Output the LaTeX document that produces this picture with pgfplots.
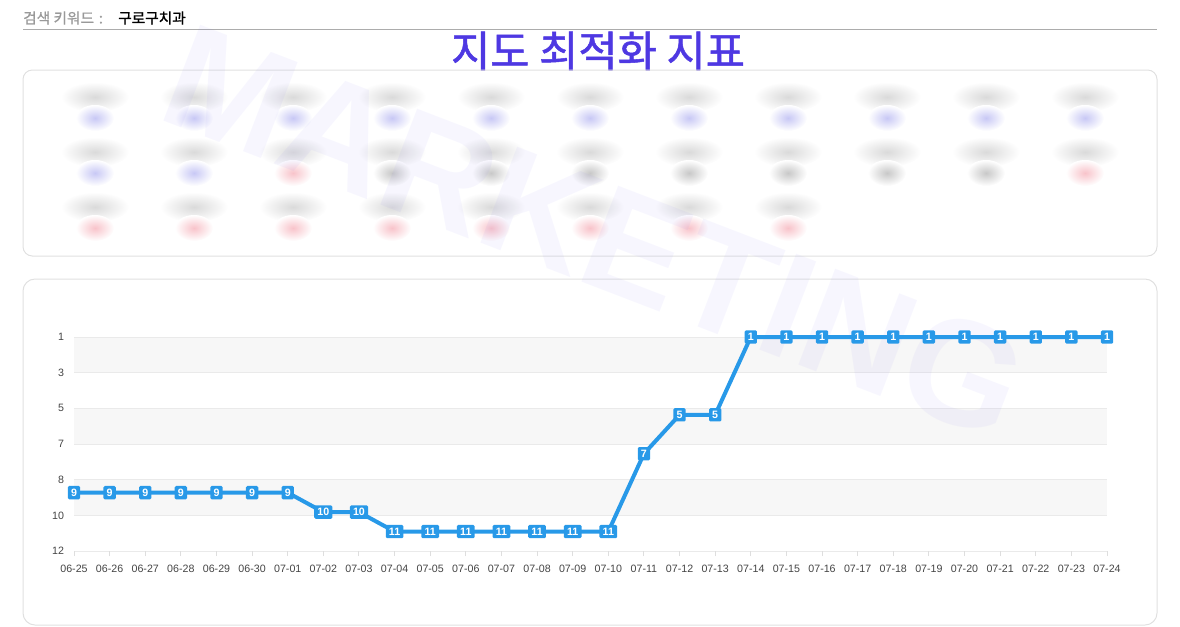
\documentclass[border=0pt]{standalone}
\usepackage{fontspec}
\setmainfont{Liberation Sans}
\newfontfamily\kr{Noto Sans CJK KR}
\newfontfamily\krb[FakeBold=1.2]{Noto Sans CJK KR}
\usepackage{pgfplots}
\pgfplotsset{compat=1.18}

\definecolor{lineblue}{RGB}{40,153,232}
\definecolor{titleblue}{RGB}{78,56,226}
\definecolor{bandgray}{RGB}{247,247,247}
\definecolor{gridgray}{RGB}{234,234,234}
\definecolor{tickgray}{RGB}{222,222,222}
\definecolor{labelgray}{RGB}{68,68,68}
\definecolor{boxgray}{RGB}{224,224,224}
\definecolor{bgray}{RGB}{218,218,218}
\definecolor{bblue}{RGB}{200,200,245}
\definecolor{bred}{RGB}{248,195,202}
\definecolor{bdark}{RGB}{200,200,200}
\definecolor{lavender}{RGB}{120,110,240}

\pgfplotstableread{
x y
0 9
1 9
2 9
3 9
4 9
5 9
6 9
7 10
8 10
9 11
10 11
11 11
12 11
13 11
14 11
15 11
16 7
17 5
18 5
19 1
20 1
21 1
22 1
23 1
24 1
25 1
26 1
27 1
28 1
29 1
}\ranks

% blurred card: grey header blob over a coloured blob, centre x y (px)
\newcommand{\blobitem}[3]{%
  \shade[inner color=bgray, outer color=white] (#1,#2) ellipse [x radius=34, y radius=15];
  \shade[inner color=#3, outer color=white] (#1,#2+21) ellipse [x radius=19, y radius=13];}

\begin{document}
\begin{tikzpicture}
\begin{scope}[x=0.75pt, y=-0.75pt]
  % header
  \node[anchor=west, inner sep=0, text=gray!80, font=\krb\fontsize{11}{12}\selectfont] at (23,18) {검색 키워드\,\,:};
  \node[anchor=west, inner sep=0, text=black, font=\krb\fontsize{11}{12}\selectfont] at (118,18) {구로구치과};
  \draw[gray!65, line width=0.75pt] (23,29) -- (1157,29);
  \node[text=titleblue, font=\krb\fontsize{32}{34}\selectfont, inner sep=0] at (598,51) {지도 최적화 지표};
  % boxes
  \draw[boxgray, line width=0.75pt, rounded corners=7] (23,70) rectangle (1157,256);
  \draw[boxgray, line width=0.75pt, rounded corners=9] (23,279) rectangle (1157,625);
  % blurred content
  \foreach \c [count=\i from 0] in {bblue,bblue,bblue,bblue,bblue,bblue,bblue,bblue,bblue,bblue,bblue}
    {\blobitem{95+99*\i}{97}{\c}}
  \foreach \c [count=\i from 0] in {bblue,bblue,bred,bdark,bdark,bdark,bdark,bdark,bdark,bdark,bred}
    {\blobitem{95+99*\i}{152}{\c}}
  \foreach \c [count=\i from 0] in {bred,bred,bred,bred,bred,bred,bred,bred}
    {\blobitem{95+99*\i}{207}{\c}}
  % watermark
  \node[rotate=-21, text=lavender, text opacity=0.06, inner sep=0,
        font=\bfseries\fontsize{112}{112}\selectfont] at (595,232) {MARKETING};
\end{scope}

\begin{axis}[
  at={(55.5pt,-413.25pt)}, anchor=south west,
  scale only axis, width=774.75pt, height=160.5pt,
  xmin=0, xmax=29, ymin=1, ymax=12, y dir=reverse,
  clip=false, set layers,
  axis line style={draw=none},
  xtick={0,...,29},
  xticklabels={06-25,06-26,06-27,06-28,06-29,06-30,07-01,07-02,07-03,07-04,07-05,07-06,07-07,07-08,07-09,07-10,07-11,07-12,07-13,07-14,07-15,07-16,07-17,07-18,07-19,07-20,07-21,07-22,07-23,07-24},
  ytick={1,2.833333,4.666667,6.5,8.333333,10.166667,12},
  yticklabels={1,3,5,7,8,10,12},
  ymajorgrids, major grid style={draw=gridgray, line width=0.75pt},
  ytick style={draw=none},
  xtick style={draw=tickgray, line width=0.75pt},
  major tick length=4pt, tick align=outside,
  xtick pos=bottom,
  xticklabel style={yshift=-3pt},
  yticklabel style={xshift=0pt},
  ticklabel style={font=\fontsize{8}{9}\selectfont, text=labelgray},
  /pgf/number format/assume math mode=true,
  nodes near coords,
  every node near coord/.append style={anchor=center, fill=lineblue, text=white,
     font=\bfseries\fontsize{8}{8}\selectfont, inner xsep=2.4pt, inner ysep=0pt,
     minimum height=10pt, rounded corners=1pt},
]
\begin{pgfonlayer}{axis background}
  \fill[bandgray] (axis cs:0,1) rectangle (axis cs:29,2.833333);
  \fill[bandgray] (axis cs:0,4.666667) rectangle (axis cs:29,6.5);
  \fill[bandgray] (axis cs:0,8.333333) rectangle (axis cs:29,10.166667);
  \draw[tickgray, line width=0.75pt] (axis cs:0,12) -- (axis cs:29,12);
\end{pgfonlayer}
\addplot[lineblue, line width=3pt, mark=none] table[x=x, y=y] {\ranks};
\end{axis}

\pgfresetboundingbox
\path[use as bounding box] (0,0) rectangle (885pt,-469.5pt);
\end{tikzpicture}
\end{document}
